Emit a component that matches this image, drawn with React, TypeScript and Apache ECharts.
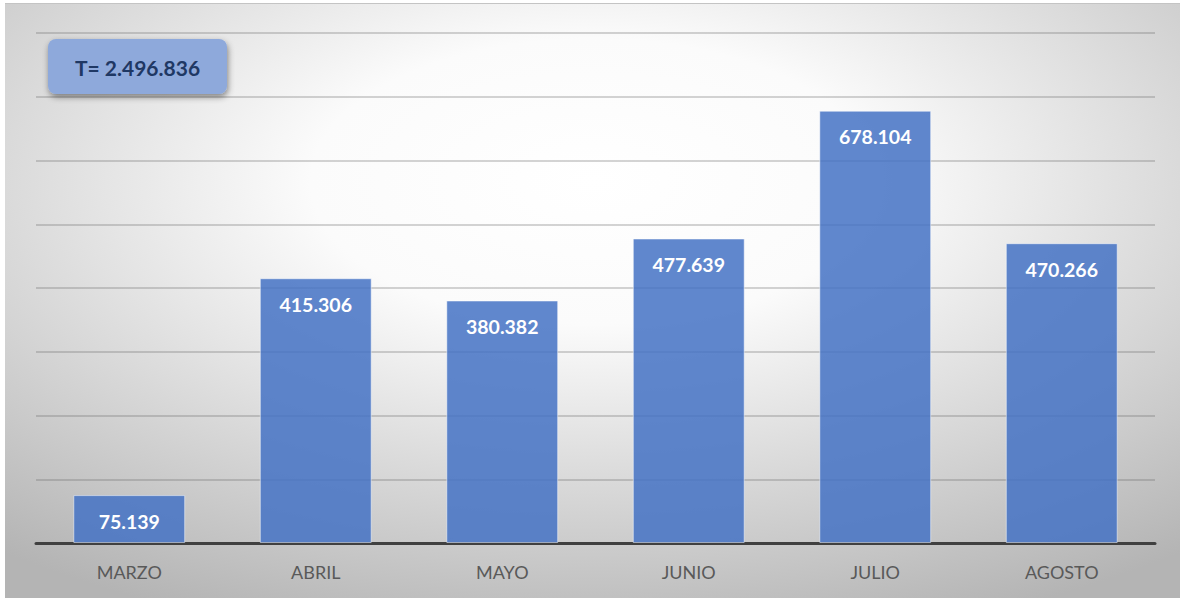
import React, { useEffect, useRef } from "react";
import * as echarts from "echarts";

const categories = ["MARZO", "ABRIL", "MAYO", "JUNIO", "JULIO", "AGOSTO"];
const values = [75139, 415306, 380382, 477639, 678104, 470266];
const totalLabel = "T= 2.496.836";
const yMax = 800000;
const yInterval = 100000;

const fmt = (v: number) => v.toString().replace(/\B(?=(\d{3})+(?!\d))/g, ".");

export default function App() {
  const ref = useRef<HTMLDivElement>(null);
  useEffect(() => {
    document.body.style.margin = "0";
    const chart = echarts.init(ref.current!, null, { renderer: "svg" });
    const font = "Lato, 'Noto Sans', sans-serif";
    chart.setOption({
      animation: false,
      textStyle: { fontFamily: font },
      graphic: [
        {
          type: "rect",
          z: -10,
          silent: true,
          shape: { x: 5, y: 3, width: 1175, height: 595 },
          style: {
            fill: new echarts.graphic.RadialGradient(0.5, 0.3, 0.8, [
              { offset: 0, color: "#ffffff" },
              { offset: 0.3, color: "#fbfbfb" },
              { offset: 1, color: "#b4b4b4" },
            ]),
          },
        },
        {
          type: "line",
          z: -9,
          silent: true,
          shape: { x1: 5, y1: 3.5, x2: 1180, y2: 3.5 },
          style: { stroke: "#c4c4c4", lineWidth: 1 },
        },
        {
          type: "rect",
          z: 10,
          shape: { x: 48, y: 39, width: 179, height: 55, r: 8 },
          style: {
            fill: "#8EA9DB",
            shadowBlur: 6,
            shadowOffsetX: 1,
            shadowOffsetY: 3,
            shadowColor: "rgba(0,0,0,0.45)",
          },
        },
        {
          type: "text",
          z: 11,
          x: 137.5,
          y: 67,
          style: {
            text: totalLabel,
            fill: "#1F3864",
            font: `bold 21px ${font}`,
            align: "center",
            verticalAlign: "middle",
          },
        },
      ],
      grid: { left: 36, right: 25, top: 33, bottom: 55 },
      xAxis: {
        type: "category",
        data: categories,
        axisLine: { show: true, lineStyle: { color: "#404040", width: 3 } },
        axisTick: { show: false },
        axisLabel: { color: "#595959", fontSize: 18, margin: 20, fontFamily: font },
      },
      yAxis: {
        type: "value",
        min: 0,
        max: yMax,
        interval: yInterval,
        axisLabel: { show: false },
        axisLine: { show: false },
        axisTick: { show: false },
        splitLine: { lineStyle: { color: "rgba(100,100,100,0.28)", width: 2 } },
      },
      series: [
        {
          type: "bar",
          data: values,
          barCategoryGap: "40%",
          itemStyle: {
            color: "rgba(68,114,196,0.85)",
            borderColor: "rgba(255,255,255,0.5)",
            borderWidth: 1,
          },
          label: {
            show: true,
            position: "insideTop",
            distance: 16,
            color: "#ffffff",
            fontWeight: "bold",
            fontSize: 19.5,
            fontFamily: font,
            formatter: (p: any) => fmt(p.value),
          },
        },
      ],
    });
    return () => chart.dispose();
  }, []);
  return <div ref={ref} style={{ width: 1180, height: 598 }} />;
}
